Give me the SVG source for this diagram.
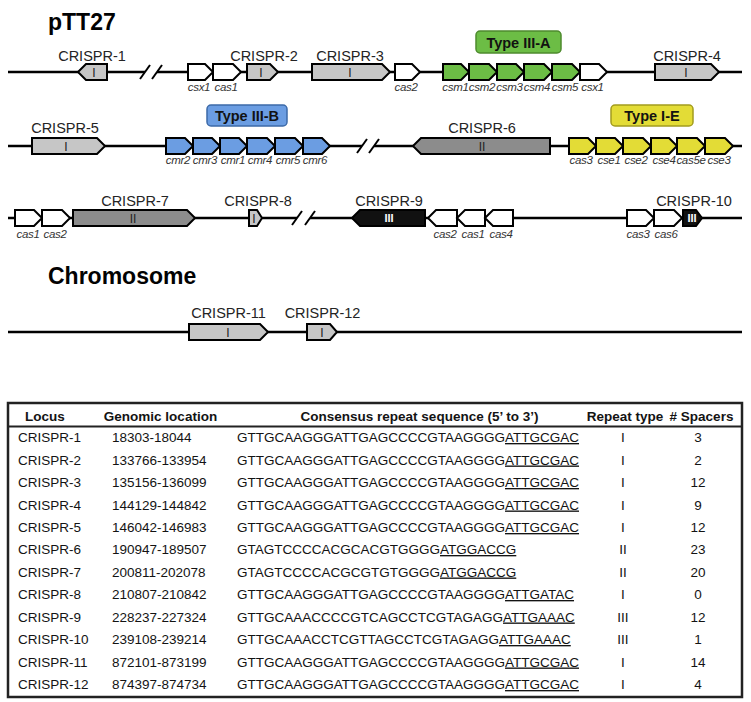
<svg xmlns="http://www.w3.org/2000/svg" width="751" height="702" viewBox="0 0 751 702">
<style>
.bg{fill:#fff}
.bb{stroke:#000;stroke-width:2.5;fill:none}
.brk{stroke:#000;stroke-width:2;fill:none}
.g{stroke:#000;stroke-width:2;stroke-linejoin:miter}
.w{fill:#fff}
.c1{fill:#c6c6c6}
.c2{fill:#8c8c8c}
.c3{fill:#111}
.gr{fill:#6cbd45}
.bl{fill:#6b9de2}
.ye{fill:#e3dc36}
text{opacity:0.99}
.title{font-family:"Liberation Sans",Arial,sans-serif;font-weight:bold;font-size:23px;fill:#000}
.lbl{font-family:"Liberation Sans",Arial,sans-serif;font-size:14.5px;fill:#222;text-anchor:middle}
.gl{font-family:"Liberation Sans",Arial,sans-serif;font-style:italic;font-size:11.5px;letter-spacing:-0.3px;fill:#333;text-anchor:middle}
.rn{font-family:"Liberation Sans",Arial,sans-serif;font-size:12px;fill:#222;text-anchor:middle}
.rnw{font-family:"Liberation Sans",Arial,sans-serif;font-size:11px;font-weight:bold;fill:#fff;text-anchor:middle}
.tl{font-family:"Liberation Sans",Arial,sans-serif;font-weight:bold;font-size:14.5px;fill:#111;text-anchor:middle}
.th{font-family:"Liberation Sans",Arial,sans-serif;font-weight:bold;font-size:13.5px;fill:#111}
.td{font-family:"Liberation Sans",Arial,sans-serif;font-size:13.5px;fill:#111}
.mid{text-anchor:middle}
.u{text-decoration:underline}
</style>
<rect class="bg" x="0" y="0" width="751" height="702"/>

<text class="title" x="48" y="30">pTT27</text>
<text class="title" x="48" y="284">Chromosome</text>

<g id="connectors">
  <line class="bb" x1="8" y1="72" x2="145" y2="72"/>
  <line class="bb" x1="157" y1="72" x2="742" y2="72"/>
  <line class="brk" x1="140" y1="79" x2="150" y2="65"/>
  <line class="brk" x1="152" y1="79" x2="162" y2="65"/>
  <line class="bb" x1="8" y1="146" x2="362" y2="146"/>
  <line class="bb" x1="374" y1="146" x2="742" y2="146"/>
  <line class="brk" x1="357" y1="153" x2="367" y2="139"/>
  <line class="brk" x1="369" y1="153" x2="379" y2="139"/>
  <line class="bb" x1="8" y1="218" x2="297" y2="218"/>
  <line class="bb" x1="310" y1="218" x2="742" y2="218"/>
  <line class="brk" x1="292" y1="225" x2="302" y2="211"/>
  <line class="brk" x1="305" y1="225" x2="315" y2="211"/>
  <line class="bb" x1="8" y1="332" x2="742" y2="332"/>
</g>

<!-- Row 1 -->
<g id="crispr-1"><polygon class="g c1" points="78,72 86,64 107,64 107,80 86,80"/><text class="rn" x="94" y="76.5">I</text><text class="lbl" x="92" y="61">CRISPR-1</text></g>
<g id="r1-csx1"><polygon class="g w" points="188,64 205,64 213,72 205,80 188,80"/><text class="gl" x="199" y="91">csx1</text></g>
<g id="r1-cas1"><polygon class="g w" points="213,64 233,64 241,72 233,80 213,80"/><text class="gl" x="226" y="91">cas1</text></g>
<g id="crispr-2"><polygon class="g c1" points="247,64 270,64 278,72 270,80 247,80"/><text class="rn" x="261" y="76.5">I</text><text class="lbl" x="264" y="61">CRISPR-2</text></g>
<g id="crispr-3"><polygon class="g c1" points="312,64 382,64 390,72 382,80 312,80"/><text class="rn" x="350" y="76.5">I</text><text class="lbl" x="350" y="61">CRISPR-3</text></g>
<g id="r1-cas2"><polygon class="g w" points="395,64 412,64 420,72 412,80 395,80"/><text class="gl" x="406" y="91">cas2</text></g>
<g id="type-iii-a"><rect x="476" y="31" width="85" height="22" rx="4" fill="#6cbd45" stroke="#4e8a2e" stroke-width="1.5"/><text class="tl" x="518.5" y="47.5">Type III-A</text></g>
<g id="csm1"><polygon class="g gr" points="443,64 461,64 469,72 461,80 443,80"/><text class="gl" x="455.5" y="91">csm1</text></g>
<g id="csm2"><polygon class="g gr" points="469,64 489,64 497,72 489,80 469,80"/><text class="gl" x="482" y="91">csm2</text></g>
<g id="csm3"><polygon class="g gr" points="497,64 516,64 524,72 516,80 497,80"/><text class="gl" x="509.5" y="91">csm3</text></g>
<g id="csm4"><polygon class="g gr" points="524,64 544,64 552,72 544,80 524,80"/><text class="gl" x="537" y="91">csm4</text></g>
<g id="csm5"><polygon class="g gr" points="552,64 572,64 580,72 572,80 552,80"/><text class="gl" x="565" y="91">csm5</text></g>
<g id="r1-csx1b"><polygon class="g w" points="580,64 599,64 607,72 599,80 580,80"/><text class="gl" x="592.5" y="91">csx1</text></g>
<g id="crispr-4"><polygon class="g c1" points="655,64 711,64 719,72 711,80 655,80"/><text class="rn" x="686" y="76.5">I</text><text class="lbl" x="687" y="61">CRISPR-4</text></g>

<!-- Row 2 -->
<g id="crispr-5"><polygon class="g c1" points="32,138 97,138 105,146 97,154 32,154"/><text class="rn" x="66" y="150.5">I</text><text class="lbl" x="65" y="133">CRISPR-5</text></g>
<g id="type-iii-b"><rect x="207" y="105" width="80" height="21" rx="4" fill="#6b9de2" stroke="#3d6aa8" stroke-width="1.5"/><text class="tl" x="247" y="121">Type III-B</text></g>
<g id="cmr2"><polygon class="g bl" points="166,138 185,138 193,146 185,154 166,154"/><text class="gl" x="178" y="164">cmr2</text></g>
<g id="cmr3"><polygon class="g bl" points="193,138 212,138 220,146 212,154 193,154"/><text class="gl" x="205" y="164">cmr3</text></g>
<g id="cmr1"><polygon class="g bl" points="220,138 239,138 247,146 239,154 220,154"/><text class="gl" x="233" y="164">cmr1</text></g>
<g id="cmr4"><polygon class="g bl" points="247,138 267,138 275,146 267,154 247,154"/><text class="gl" x="260" y="164">cmr4</text></g>
<g id="cmr5"><polygon class="g bl" points="275,138 295,138 303,146 295,154 275,154"/><text class="gl" x="288" y="164">cmr5</text></g>
<g id="cmr6"><polygon class="g bl" points="303,138 322,138 330,146 322,154 303,154"/><text class="gl" x="315" y="164">cmr6</text></g>
<g id="crispr-6"><polygon class="g c2" points="413,146 421,138 550,138 550,154 421,154"/><text class="rn" x="482" y="150.5">II</text><text class="lbl" x="482" y="133">CRISPR-6</text></g>
<g id="type-i-e"><rect x="611" y="105" width="82" height="21" rx="4" fill="#e3dc36" stroke="#a39c1e" stroke-width="1.5"/><text class="tl" x="652" y="121">Type I-E</text></g>
<g id="r2-cas3"><polygon class="g ye" points="569,138 588,138 596,146 588,154 569,154"/><text class="gl" x="581" y="164">cas3</text></g>
<g id="cse1"><polygon class="g ye" points="596,138 615,138 623,146 615,154 596,154"/><text class="gl" x="609" y="164">cse1</text></g>
<g id="cse2"><polygon class="g ye" points="623,138 643,138 651,146 643,154 623,154"/><text class="gl" x="636" y="164">cse2</text></g>
<g id="cse4"><polygon class="g ye" points="651,138 669,138 677,146 669,154 651,154"/><text class="gl" x="664" y="164">cse4</text></g>
<g id="cas5e"><polygon class="g ye" points="677,138 697,138 705,146 697,154 677,154"/><text class="gl" x="691" y="164">cas5e</text></g>
<g id="cse3"><polygon class="g ye" points="705,138 725,138 733,146 725,154 705,154"/><text class="gl" x="719" y="164">cse3</text></g>

<!-- Row 3 -->
<g id="r3-cas1"><polygon class="g w" points="15,210 34,210 42,218 34,226 15,226"/><text class="gl" x="28" y="238">cas1</text></g>
<g id="r3-cas2"><polygon class="g w" points="42,210 62,210 70,218 62,226 42,226"/><text class="gl" x="55" y="238">cas2</text></g>
<g id="crispr-7"><polygon class="g c2" points="73,210 187,210 195,218 187,226 73,226"/><text class="rn" x="133" y="222.5">II</text><text class="lbl" x="135" y="206">CRISPR-7</text></g>
<g id="crispr-8"><polygon class="g c1" points="249,210 257,210 262,218 257,226 249,226"/><text class="rn" x="254" y="222.5">I</text><text class="lbl" x="258" y="206">CRISPR-8</text></g>
<g id="crispr-9"><polygon class="g c3" points="352,218 360,210 425,210 425,226 360,226"/><text class="rnw" x="389" y="222">III</text><text class="lbl" x="389" y="206">CRISPR-9</text></g>
<g id="r3-cas2b"><polygon class="g w" points="428,218 436,210 457,210 457,226 436,226"/><text class="gl" x="445" y="238">cas2</text></g>
<g id="r3-cas1b"><polygon class="g w" points="457,218 465,210 485,210 485,226 465,226"/><text class="gl" x="473" y="238">cas1</text></g>
<g id="cas4"><polygon class="g w" points="485,218 493,210 513,210 513,226 493,226"/><text class="gl" x="501" y="238">cas4</text></g>
<g id="r3-cas3"><polygon class="g w" points="627,210 646,210 654,218 646,226 627,226"/><text class="gl" x="638" y="238">cas3</text></g>
<g id="cas6"><polygon class="g w" points="654,210 674,210 682,218 674,226 654,226"/><text class="gl" x="666" y="238">cas6</text></g>
<g id="crispr-10"><polygon class="g c3" points="683,210 696,210 702,218 696,226 683,226"/><text class="rnw" x="692" y="222">III</text><text class="lbl" x="694" y="206">CRISPR-10</text></g>

<!-- Chromosome -->
<g id="crispr-11"><polygon class="g c1" points="189,324 260,324 268,332 260,340 189,340"/><text class="rn" x="228" y="336.5">I</text><text class="lbl" x="228.5" y="318">CRISPR-11</text></g>
<g id="crispr-12"><polygon class="g c1" points="307,324 330,324 337,332 330,340 307,340"/><text class="rn" x="322" y="336.5">I</text><text class="lbl" x="322.5" y="318">CRISPR-12</text></g>

<!-- Table -->
<g id="table">
  <rect x="8" y="403" width="734" height="294" fill="#fff" stroke="#222" stroke-width="2.5"/>
  <line x1="8" y1="426.5" x2="742" y2="426.5" stroke="#222" stroke-width="1.8"/>
  <text class="th mid" x="45" y="421">Locus</text>
  <text class="th mid" x="160.5" y="421">Genomic location</text>
  <text class="th mid" x="419.5" y="421">Consensus repeat sequence (5’ to 3’)</text>
  <text class="th mid" x="625" y="421">Repeat type</text>
  <text class="th mid" x="701.5" y="421">#&#160;Spacers</text>

  <text class="td" x="18" y="442">CRISPR-1</text><text class="td" x="112" y="442">18303-18044</text><text class="td" x="237" y="442">GTTGCAAGGGATTGAGCCCCGTAAGGGG<tspan class="u">ATTGCGAC</tspan></text><text class="td mid" x="623" y="442">I</text><text class="td mid" x="698" y="442">3</text>
  <text class="td" x="18" y="464.5">CRISPR-2</text><text class="td" x="112" y="464.5">133766-133954</text><text class="td" x="237" y="464.5">GTTGCAAGGGATTGAGCCCCGTAAGGGG<tspan class="u">ATTGCGAC</tspan></text><text class="td mid" x="623" y="464.5">I</text><text class="td mid" x="698" y="464.5">2</text>
  <text class="td" x="18" y="487">CRISPR-3</text><text class="td" x="112" y="487">135156-136099</text><text class="td" x="237" y="487">GTTGCAAGGGATTGAGCCCCGTAAGGGG<tspan class="u">ATTGCGAC</tspan></text><text class="td mid" x="623" y="487">I</text><text class="td mid" x="698" y="487">12</text>
  <text class="td" x="18" y="509.5">CRISPR-4</text><text class="td" x="112" y="509.5">144129-144842</text><text class="td" x="237" y="509.5">GTTGCAAGGGATTGAGCCCCGTAAGGGG<tspan class="u">ATTGCGAC</tspan></text><text class="td mid" x="623" y="509.5">I</text><text class="td mid" x="698" y="509.5">9</text>
  <text class="td" x="18" y="532">CRISPR-5</text><text class="td" x="112" y="532">146042-146983</text><text class="td" x="237" y="532">GTTGCAAGGGATTGAGCCCCGTAAGGGG<tspan class="u">ATTGCGAC</tspan></text><text class="td mid" x="623" y="532">I</text><text class="td mid" x="698" y="532">12</text>
  <text class="td" x="18" y="554">CRISPR-6</text><text class="td" x="112" y="554">190947-189507</text><text class="td" x="237" y="554">GTAGTCCCCACGCACGTGGGG<tspan class="u">ATGGACCG</tspan></text><text class="td mid" x="623" y="554">II</text><text class="td mid" x="698" y="554">23</text>
  <text class="td" x="18" y="576.5">CRISPR-7</text><text class="td" x="112" y="576.5">200811-202078</text><text class="td" x="237" y="576.5">GTAGTCCCCACGCGTGTGGGG<tspan class="u">ATGGACCG</tspan></text><text class="td mid" x="623" y="576.5">II</text><text class="td mid" x="698" y="576.5">20</text>
  <text class="td" x="18" y="599">CRISPR-8</text><text class="td" x="112" y="599">210807-210842</text><text class="td" x="237" y="599">GTTGCAAGGGATTGAGCCCCGTAAGGGG<tspan class="u">ATTGATAC</tspan></text><text class="td mid" x="623" y="599">I</text><text class="td mid" x="698" y="599">0</text>
  <text class="td" x="18" y="621.5">CRISPR-9</text><text class="td" x="112" y="621.5">228237-227324</text><text class="td" x="237" y="621.5">GTTGCAAACCCCGTCAGCCTCGTAGAGG<tspan class="u">ATTGAAAC</tspan></text><text class="td mid" x="623" y="621.5">III</text><text class="td mid" x="698" y="621.5">12</text>
  <text class="td" x="18" y="644">CRISPR-10</text><text class="td" x="112" y="644">239108-239214</text><text class="td" x="237" y="644">GTTGCAAACCTCGTTAGCCTCGTAGAGG<tspan class="u">ATTGAAAC</tspan></text><text class="td mid" x="623" y="644">III</text><text class="td mid" x="698" y="644">1</text>
  <text class="td" x="18" y="666.5">CRISPR-11</text><text class="td" x="112" y="666.5">872101-873199</text><text class="td" x="237" y="666.5">GTTGCAAGGGATTGAGCCCCGTAAGGGG<tspan class="u">ATTGCGAC</tspan></text><text class="td mid" x="623" y="666.5">I</text><text class="td mid" x="698" y="666.5">14</text>
  <text class="td" x="18" y="689">CRISPR-12</text><text class="td" x="112" y="689">874397-874734</text><text class="td" x="237" y="689">GTTGCAAGGGATTGAGCCCCGTAAGGGG<tspan class="u">ATTGCGAC</tspan></text><text class="td mid" x="623" y="689">I</text><text class="td mid" x="698" y="689">4</text>
</g>
</svg>
